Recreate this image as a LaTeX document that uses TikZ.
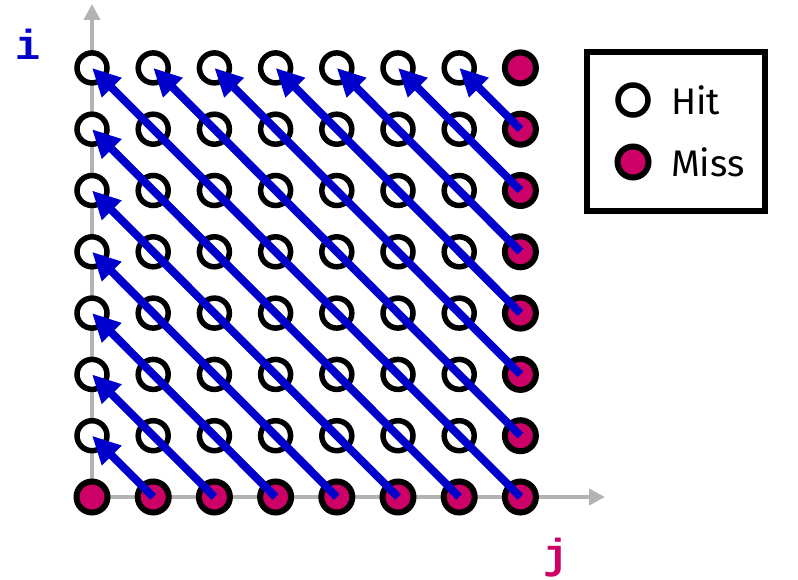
\documentclass[tikz,border=0pt]{standalone}
\usepackage{fontspec}
\setmainfont{Fira Sans}
\newfontfamily\monofont{Liberation Mono}
\usetikzlibrary{arrows.meta}
\definecolor{missc}{RGB}{204,0,102}
\definecolor{arrc}{RGB}{0,0,204}
\definecolor{axisc}{RGB}{179,179,179}
\tikzset{
  hitc/.style={circle,draw=black,line width=5.5pt,minimum size=30pt,inner sep=0pt,fill=white},
  missnode/.style={circle,draw=black,line width=6pt,minimum size=31pt,inner sep=0pt,fill=missc},
  diagarrow/.style={draw=arrc,line width=8pt,-{Triangle[length=28pt,width=26pt]}},
  axisline/.style={draw=axisc,line width=4pt,-{Triangle[length=16pt,width=16pt]}},
  legtext/.style={font=\fontsize{37}{42}\selectfont,anchor=west,inner sep=0pt}
}
\begin{document}
\begin{tikzpicture}[x=1pt,y=-1pt]
\useasboundingbox (0,0) rectangle (798,580);
% axes
\coordinate (o) at (92,497);
\coordinate (ytop) at (92,4);
\coordinate (xend) at (605,497);
\draw[axisline] (o) -- (ytop);
\draw[axisline] (o) -- (xend);
% grid
\foreach \i in {0,...,7}{
  \foreach \j in {0,...,7}{
    \pgfmathtruncatemacro{\miss}{(\i==0)||(\j==7)}
    \ifnum\miss=1
      \node[missnode] (c-\i-\j) at ({92+61.2*\j},{497-61.3*\i}) {};
    \else
      \node[hitc] (c-\i-\j) at ({92+61.2*\j},{497-61.3*\i}) {};
    \fi
  }
}
% arrows
\foreach \k in {1,...,7}{
  \draw[diagarrow] (c-0-\k.center) -- (c-\k-0.center);
}
\foreach \k in {1,...,6}{
  \draw[diagarrow] (c-\k-7.center) -- (c-7-\k.center);
}
% labels
\node[text=arrc,font=\monofont\bfseries\fontsize{42}{48}\selectfont,inner sep=0pt] (ilab) at (28,44) {i};
\node[text=missc,font=\monofont\bfseries\fontsize{42}{48}\selectfont,inner sep=0pt] (jlab) at (556,558) {j};
% legend
\node[draw=black,line width=6pt,minimum width=178pt,minimum height=159pt,inner sep=0pt] (legend) at (676,131.5) {};
\node[hitc] (lhit) at (633,100) {};
\node[missnode] (lmiss) at (633,162) {};
\node[legtext] (thit) at (671,100) {Hit};
\node[legtext] (tmiss) at (671,162) {Miss};
\end{tikzpicture}
\end{document}
